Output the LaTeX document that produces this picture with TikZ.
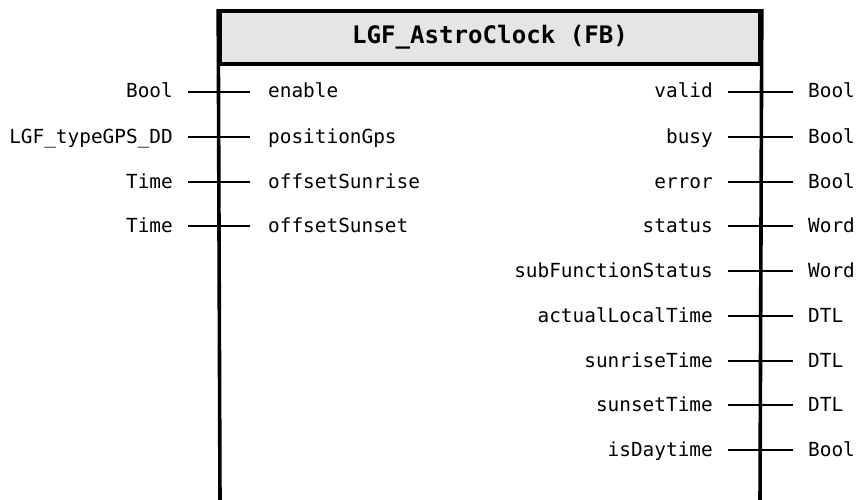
\documentclass[tikz,border=0pt]{standalone}
\usepackage{fontspec}
\setmonofont{DejaVu Sans Mono}
\begin{document}
\begin{tikzpicture}[x=1pt,y=-1pt,
  lbl/.style={font=\fontsize{19.4}{21}\selectfont\ttfamily, inner sep=0pt, text=black},
  conn/.style={line width=2pt},
  boxline/.style={line width=3.6pt},
  hdr/.style={draw, line width=3.6pt, fill=black!10, minimum width=540pt, minimum height=53pt, inner sep=0pt,
    font=\fontsize{24.1}{26}\selectfont\ttfamily\bfseries}]
\useasboundingbox (0,0) rectangle (859,500);
\node[hdr] (head) at (490,37.5) {LGF\_AstroClock (FB)};
\coordinate (bl) at (220,502);
\coordinate (br) at (760,502);
\draw[boxline] (head.north west) -- (bl);
\draw[boxline] (head.north east) -- (br);
% left side
\foreach \i/\t/\n/\y in {1/Bool/enable/92, 2/LGF\_typeGPS\_DD/positionGps/137, 3/Time/offsetSunrise/182, 4/Time/offsetSunset/226}{
  \node[lbl, anchor=base east] (lt\i) at (173,\y+6) {\t};
  \node[lbl, anchor=base west] (li\i) at (268,\y+6) {\n};
  \draw[conn] (lt\i.east |- 0,\y) ++(15,0) -- ([xshift=-18pt]li\i.west |- 0,\y);
}
% right side
\foreach \i/\n/\t/\y in {1/valid/Bool/92, 2/busy/Bool/137, 3/error/Bool/182, 4/status/Word/226, 5/subFunctionStatus/Word/271, 6/actualLocalTime/DTL/316, 7/sunriseTime/DTL/361, 8/sunsetTime/DTL/405, 9/isDaytime/Bool/450}{
  \node[lbl, anchor=base east] (ro\i) at (713,\y+6) {\n};
  \node[lbl, anchor=base west] (rt\i) at (808,\y+6) {\t};
  \draw[conn] (ro\i.east |- 0,\y) ++(15,0) -- ([xshift=-15pt]rt\i.west |- 0,\y);
}
\end{tikzpicture}
\end{document}
